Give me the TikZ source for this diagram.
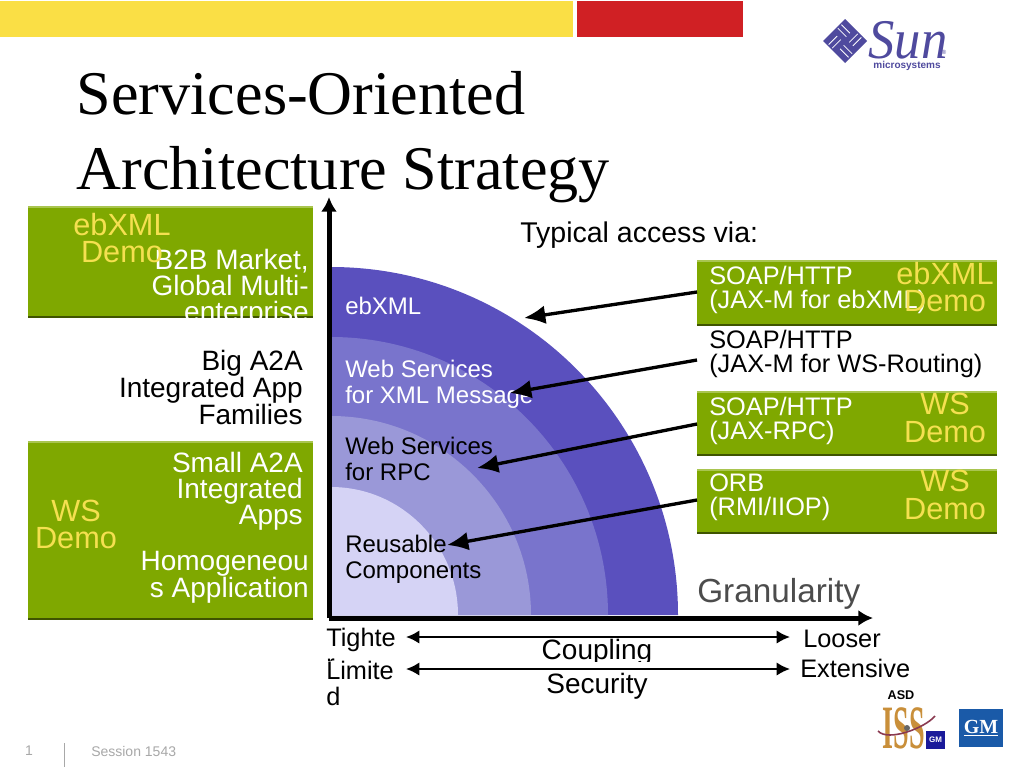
\documentclass[tikz,border=0pt]{standalone}
\usepackage{fontspec}
\setmainfont{Liberation Sans}
\newfontfamily\titlefont{Liberation Serif}
\usetikzlibrary{
  arrows.meta,
  positioning
}
\definecolor{ink}{HTML}{000000}
\definecolor{leaf}{HTML}{7FA800}
\definecolor{leafdark}{HTML}{3F5400}
\definecolor{leaflight}{HTML}{A9C550}
\definecolor{demo}{HTML}{F5E050}
\definecolor{barsand}{HTML}{FADF45}
\definecolor{barred}{HTML}{D02024}
\definecolor{ringa}{HTML}{5A50BE}
\definecolor{ringb}{HTML}{7974CC}
\definecolor{ringc}{HTML}{9A98D8}
\definecolor{ringd}{HTML}{D5D3F5}
\definecolor{sunblue}{HTML}{4F4A9E}
\definecolor{gmblue}{HTML}{1A5AA8}
\definecolor{gmsmall}{HTML}{1A1A9A}
\definecolor{issgold}{HTML}{C98F3A}
\definecolor{issred}{HTML}{8A3A50}
\definecolor{footgrey}{HTML}{A8A8A8}
\newcommand{\pxfont}[2]{\fontsize{#1}{#2}\selectfont}
\tikzset{
  x=0.75pt,
  y=-0.75pt,
  flow/.style={
    -{Latex[length=16pt,width=14pt]},
    line width=2.5pt,
    draw=ink
  },
  span/.style={
    {Latex[length=10pt,width=10pt]}-{Latex[length=10pt,width=10pt]},
    line width=1.5pt,
    draw=ink
  },
  axis/.style={
    -{Latex[length=11pt,width=12pt]},
    line width=3.75pt,
    draw=ink
  },
  body/.style={
    inner sep=0pt,
    align=left,
    anchor=north west,
    text=ink,
    font=\pxfont{21}{19.5}
  },
  bodyright/.style={
    body,
    align=right,
    anchor=north east
  },
  onleaf/.style={
    bodyright,
    text=white
  },
  demotext/.style={
    inner sep=0pt,
    align=center,
    anchor=north,
    text=demo,
    font=\pxfont{23}{20.5}
  },
  ringlabel/.style={
    body,
    font=\pxfont{18}{19.5}
  },
  portlabel/.style={
    body,
    font=\pxfont{19}{18}
  },
  scalelabel/.style={
    body,
    font=\pxfont{19}{19.5}
  },
  footer/.style={
    inner sep=0pt,
    text=footgrey,
    font=\pxfont{10.5}{12}
  }
}
\newcommand{\leafpanel}[5]{%
  \fill[leaf] (#2,#3) rectangle (#4,#5);
  \fill[leaflight] (#2,#3) rectangle (#4,#3+2);
  \fill[leafdark] (#2,#5-2) rectangle (#4,#5);
  \coordinate (#1) at (#2,#3);
}
\begin{document}
\begin{tikzpicture}
  \useasboundingbox (0,0) rectangle (1024,768);
  \fill[white] (0,0) rectangle (1024,768);
  % top bars
  \fill[barsand] (0,1) rectangle (573,37);
  \fill[barred] (577,1) rectangle (743,37);
  % title
  \node[inner sep=0pt, anchor=north west, align=left, font=\titlefont\pxfont{46.6}{56}] (title) at (76.5,71.5)
    {Services-Oriented\\Architecture Strategy};
  % green panels
  \leafpanel{market}{28}{206}{313}{318}
  \leafpanel{small}{28}{441}{313}{620}
  \leafpanel{ebxmlport}{697}{260}{997}{326}
  \leafpanel{rpcport}{697}{391}{997}{456}
  \leafpanel{orbport}{697}{469}{997}{534}
  % rings
  \fill[ringa] (331,615) -- (331,267) arc[start angle=90, end angle=0, x radius=347, y radius=-348] -- cycle;
  \fill[ringb] (331,615) -- (331,337) arc[start angle=90, end angle=0, x radius=277, y radius=-278] -- cycle;
  \fill[ringc] (331,615) -- (331,416) arc[start angle=90, end angle=0, x radius=200, y radius=-199] -- cycle;
  \fill[ringd] (331,615) -- (331,487) arc[start angle=90, end angle=0, x radius=127, y radius=-128] -- cycle;
  % axes
  \coordinate (origin) at (329,618);
  \coordinate (ytip) at (329,197);
  \coordinate (xtip) at (873,618);
  \draw[axis] (origin) -- (ytip);
  \draw[axis] (origin) -- (xtip);
  % ring labels
  \node[ringlabel, text=white] (ebxml) at (345,297) {ebXML};
  \node[ringlabel, text=white] (wsxml) at (345,360) {Web Services\\for XML Message};
  \node[ringlabel] (wsrpc) at (345,437) {Web Services\\for RPC};
  \node[ringlabel] (reuse) at (345,535) {Reusable\\Components};
  % left labels
  \node[onleaf] (market label) at (309,249) {B2B Market,\\Global Multi-\\enterprise};
  \node[bodyright] (big) at (303,349.5) {Big A2A\\Integrated App\\Families};
  \node[onleaf] (small label) at (303,452) {Small A2A\\Integrated\\Apps};
  \node[onleaf] (homog) at (309,551) {Homogeneou\\s Application};
  \node[demotext] (demo market) at (122,213) {ebXML\\Demo};
  \node[demotext] (demo small) at (76,499.5) {WS\\Demo};
  % right labels
  \node[body, font=\pxfont{21.4}{20}] (typical) at (520,222) {Typical access via:};
  \node[portlabel, text=white] (port a) at (709,266) {SOAP/HTTP\\(JAX-M for ebXML)};
  \node[portlabel] (port b) at (709,330) {SOAP/HTTP\\(JAX-M for WS-Routing)};
  \node[portlabel, text=white] (port c) at (709,397) {SOAP/HTTP\\(JAX-RPC)};
  \node[portlabel, text=white] (port d) at (709,474) {ORB\\(RMI/IIOP)};
  \node[demotext] (demo a) at (945,262) {ebXML\\Demo};
  \node[demotext] (demo c) at (945,393) {WS\\Demo};
  \node[demotext] (demo d) at (945,470) {WS\\Demo};
  % access arrows
  \coordinate (from a) at (697,292);
  \coordinate (from b) at (697,360);
  \coordinate (from c) at (697,424);
  \coordinate (from d) at (697,500);
  \coordinate (to a) at (524,318);
  \coordinate (to b) at (510,393);
  \coordinate (to c) at (477,468);
  \coordinate (to d) at (447,545);
  \draw[flow] (from a) -- (to a);
  \draw[flow] (from b) -- (to b);
  \draw[flow] (from c) -- (to c);
  \draw[flow] (from d) -- (to d);
  % bottom scales
  \node[body, font=\pxfont{25}{25}, text=black!70] (gran) at (697,578) {Granularity};
  \node[body, anchor=north] (coupling) at (597,639) {Coupling};
  \fill[white] (520,662) rectangle (680,700);
  \node[body, anchor=north] (security) at (597,673) {Security};
  \node[scalelabel] (tight) at (326,628) {Tighte\\r};
  \fill[white] (320,661) rectangle (400,690);
  \node[scalelabel] (limited) at (326,661) {Limite\\d};
  \node[scalelabel] (loose) at (803,630) {Looser};
  \node[scalelabel] (extensive) at (800,659) {Extensive};
  \coordinate (coupling west) at (406,637);
  \coordinate (coupling east) at (790,637);
  \coordinate (security west) at (406,669);
  \coordinate (security east) at (790,669);
  \draw[span] (coupling west) -- (coupling east);
  \draw[span] (security west) -- (security east);
  % sun logo
  \fill[sunblue] (845,19) -- (867,41) -- (845,63) -- (823,41) -- cycle;
  \begin{scope}[shift={(845,41)}, rotate=45]
    \foreach \a in {0,90,180,270} {
      \foreach \d in {4,9} {
        \draw[white, line width=0.6pt, rotate=\a] (\d,-14) -- (\d,-2);
      }
    }
  \end{scope}
  \node[inner sep=0pt, xscale=0.94, transform shape, text=sunblue, font=\titlefont\itshape\pxfont{42}{42}] (sun) at (908,40) {Sun};
  \node[inner sep=0pt, text=sunblue, font=\pxfont{4.5}{5}] (reg) at (944,52) {®};
  \node[inner sep=0pt, text=sunblue, font=\bfseries\pxfont{7.5}{8}] (micro) at (907,66) {microsystems};
  % iss and gm logos
  \node[inner sep=0pt, font=\bfseries\pxfont{9.5}{10}] (asd) at (901,695) {ASD};
  \node[inner sep=0pt, xscale=0.57, yscale=1.25, transform shape, text=issgold, font=\titlefont\bfseries\pxfont{37}{37}] (iss) at (904,728) {ISS};
  \draw[issred, line width=1.2pt] (878,731) .. controls (888,742) and (925,728) .. (935,716);
  \fill[black!60] (907,728) circle[radius=3];
  \node[fill=gmsmall, text=white, inner sep=0pt, minimum width=14pt, minimum height=13.5pt, font=\bfseries\pxfont{6}{6}] (gm small) at (935.5,740) {GM};
  \node[fill=gmblue, text=white, inner sep=0pt, minimum width=33pt, minimum height=28.5pt, font=\titlefont\bfseries\pxfont{15}{15}] (gm) at (981,728) {\underline{GM}};
  % footer
  \node[footer] (page) at (29,751) {1};
  \coordinate (rule top) at (64,743);
  \coordinate (rule bottom) at (64,767);
  \draw[footgrey, line width=0.7pt] (rule top) -- (rule bottom);
  \node[footer, anchor=west] (session) at (91,751) {Session 1543};
\end{tikzpicture}
\end{document}
